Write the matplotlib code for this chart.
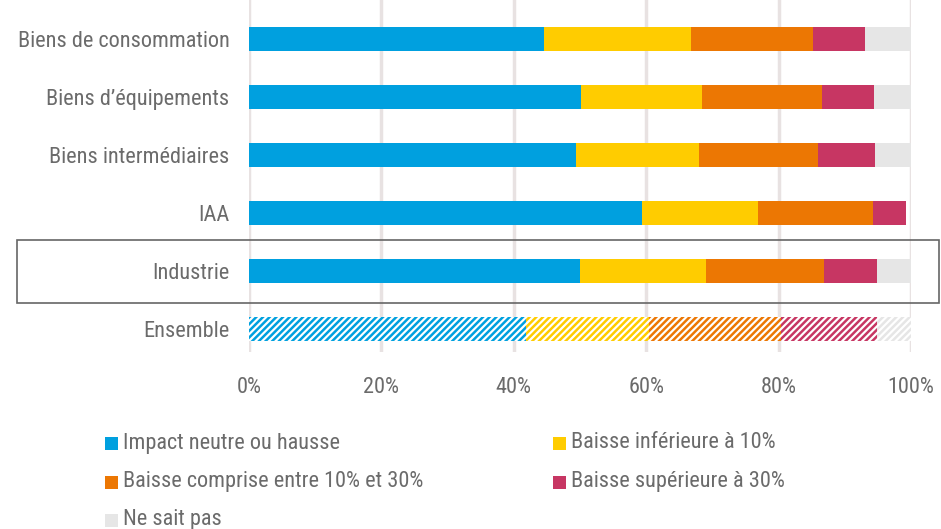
import matplotlib.pyplot as plt
from matplotlib.patches import Rectangle
from matplotlib import font_manager

# data
categories = ["Biens de consommation", "Biens d\u2019équipements", "Biens intermédiaires",
              "IAA", "Industrie", "Ensemble"]
series_names = ["Impact neutre ou hausse", "Baisse inférieure à 10%",
                "Baisse comprise entre 10% et 30%", "Baisse supérieure à 30%", "Ne sait pas"]
impact_neutre = [44.5, 50.1, 49.4, 59.3, 50.0, 41.8]
baisse_inf10 = [22.3, 18.4, 18.6, 17.6, 19.0, 18.6]
baisse_10_30 = [18.4, 18.0, 18.0, 17.4, 17.9, 19.9]
baisse_sup30 = [7.9, 7.9, 8.5, 5.0, 7.9, 14.6]
ne_sait_pas = [6.9, 5.6, 5.5, 0.0, 5.2, 5.1]
colors = ["#00A0DF", "#FFCC00", "#EC7703", "#C73663", "#E6E6E6"]
xticks = [0, 20, 40, 60, 80, 100]

# condensed font if there is one, otherwise a smaller Liberation Sans
names = {f.name for f in font_manager.fontManager.ttflist}
fs = 13.5
fam = "Liberation Sans"
for cand in ["Roboto Condensed", "Liberation Sans Narrow", "DejaVu Sans Condensed"]:
    if cand in names:
        fam, fs = cand, 16
        break
plt.rcParams["font.family"] = [fam, "DejaVu Sans"]
plt.rcParams["hatch.linewidth"] = 1.8

txt = "#6b6b6b"
fig = plt.figure(figsize=(9.41, 5.29), dpi=100)
ax = fig.add_axes([249 / 941, 1 - 352 / 529, 662 / 941, 352 / 529])

values = [impact_neutre, baisse_inf10, baisse_10_30, baisse_sup30, ne_sait_pas]
ypos = list(range(len(categories)))
left = [0.0] * len(categories)
for vals, col in zip(values, colors):
    for i, v in enumerate(vals):
        if categories[i] == "Ensemble":
            ax.barh(i, v, left=left[i], height=0.4, facecolor="white",
                    edgecolor=col, hatch="/////", linewidth=0)
        else:
            ax.barh(i, v, left=left[i], height=0.4, color=col, linewidth=0)
        left[i] += v

ax.set_xlim(0, 100)
ax.set_ylim(5 + 23 / 58, -39 / 58)
ax.set_yticks(ypos)
ax.set_yticklabels(categories, fontsize=fs, color=txt)
ax.set_xticks(xticks)
ax.set_xticklabels([f"{t}%" for t in xticks], fontsize=fs, color=txt)
ax.tick_params(length=0)
ax.tick_params(axis="y", pad=14)
ax.tick_params(axis="x", pad=18)
for s in ax.spines.values():
    s.set_visible(False)
ax.grid(axis="x", color="#e8e2e2", linewidth=2.5)
ax.set_axisbelow(True)

# box around Industrie
fig.patches.append(Rectangle((17 / 941, 1 - 303 / 529), 922 / 941, 63 / 529,
                             transform=fig.transFigure, fill=False,
                             edgecolor="#666666", linewidth=1.2))

# legend, laid out by hand: two columns, filled row by row
leg_x = [105, 553]
leg_y = [443, 482, 520]
for k, (name, col) in enumerate(zip(series_names, colors)):
    x0 = leg_x[k % 2]
    y0 = leg_y[k // 2]
    fig.patches.append(Rectangle((x0 / 941, 1 - (y0 + 6.5) / 529), 12.5 / 941, 12.5 / 529,
                                 transform=fig.transFigure, color=col, linewidth=0))
    fig.text((x0 + 18) / 941, 1 - y0 / 529, name, fontsize=fs, color=txt,
             va="center", ha="left")

fig.savefig("out.png", dpi=100)
